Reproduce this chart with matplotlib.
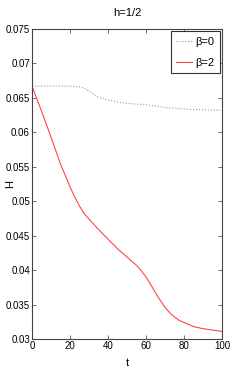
import matplotlib
matplotlib.use('Agg')
import matplotlib.pyplot as plt

# data
t_beta0 = [0, 5, 10, 15, 20, 25, 27.5, 30, 32.5, 35, 40, 45, 50, 55, 60, 65, 70, 75, 80, 85, 90, 95, 100]
h_beta0 = [0.0667, 0.0667, 0.0667, 0.0667, 0.0667, 0.0666, 0.0664, 0.0660, 0.0655, 0.0651, 0.0647,
           0.0644, 0.0642, 0.0641, 0.0640, 0.0638, 0.0636, 0.0635, 0.0634, 0.0633, 0.0633, 0.0632, 0.0632]
t_beta2 = [0, 5, 10, 15, 20, 22.5, 25, 27.5, 30, 35, 40, 45, 50, 55, 57.5, 60, 62.5, 65, 67.5,
           70, 72.5, 75, 77.5, 80, 85, 90, 95, 100]
h_beta2 = [0.0667, 0.0631, 0.0593, 0.0554, 0.0521, 0.0506, 0.0493, 0.0482, 0.0474, 0.0459, 0.0445,
           0.0431, 0.0419, 0.0407, 0.0399, 0.0390, 0.0379, 0.0367, 0.0356, 0.0346, 0.0338, 0.0332,
           0.0327, 0.0324, 0.0318, 0.0315, 0.0313, 0.0311]
yticks = [0.03, 0.035, 0.04, 0.045, 0.05, 0.055, 0.06, 0.065, 0.07, 0.075]
yticklabels = ['0.03', '0.035', '0.04', '0.045', '0.05', '0.055', '0.06', '0.065', '0.07', '0.075']
xticks = [0, 20, 40, 60, 80, 100]

plt.rcParams['font.family'] = ['Liberation Sans', 'DejaVu Sans']
plt.rcParams['font.size'] = 8

fig = plt.figure(figsize=(2.45, 3.82), dpi=100)
ax = fig.add_axes([32 / 245, 1 - 339 / 382, 190 / 245, 310 / 382])

ax.plot(t_beta0, h_beta0, linestyle=':', color='#999999', linewidth=0.8, label='β=0')
ax.plot(t_beta2, h_beta2, linestyle='-', color='#ff3b3b', linewidth=0.75, label='β=2')

ax.set_xlim(0, 100)
ax.set_ylim(0.03, 0.075)
ax.set_xticks(xticks)
ax.set_xticklabels([str(x) for x in xticks])
ax.set_yticks(yticks)
ax.set_yticklabels(yticklabels)
ax.tick_params(direction='in', top=True, right=True, length=3, width=0.6,
               color='#555555', pad=1.5, labelsize=7)
for s in ax.spines.values():
    s.set_color('#444444')
    s.set_linewidth(0.8)

ax.set_title('h=1/2', fontsize=8, pad=9)
ax.set_xlabel('t', fontsize=8, labelpad=5)
ax.set_ylabel('H', fontsize=8)
ax.yaxis.set_label_coords(-0.09, 0.5)

leg = ax.legend(loc='upper right', fontsize=8, handlelength=1.4, handletextpad=0.3,
                borderpad=0.5, labelspacing=1.0, fancybox=False, framealpha=1,
                borderaxespad=0.2)
leg.get_frame().set_edgecolor('#333333')
leg.get_frame().set_linewidth(0.8)

fig.savefig('out.png', dpi=100)
